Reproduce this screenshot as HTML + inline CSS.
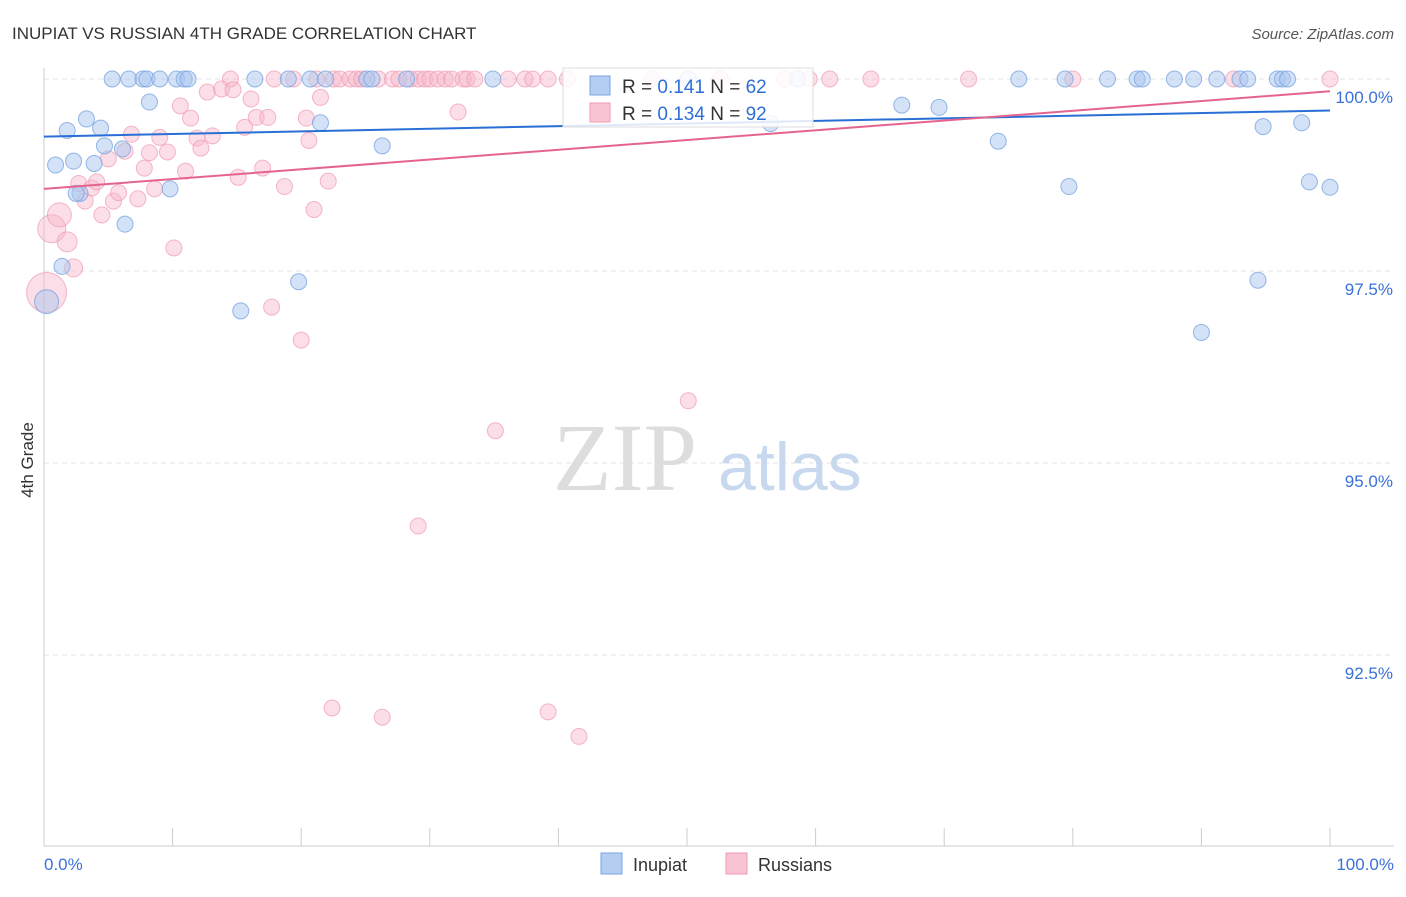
<!DOCTYPE html>
<html><head><meta charset="utf-8"><style>
body{margin:0;background:#fff;font-family:"Liberation Sans",sans-serif;}
</style></head><body>
<svg id="c" width="1406" height="892" xmlns="http://www.w3.org/2000/svg">
<text x="12" y="39" font-size="17" fill="#333">INUPIAT VS RUSSIAN 4TH GRADE CORRELATION CHART</text>
<text x="1394" y="39" font-size="15" fill="#555" font-style="italic" text-anchor="end">Source: ZipAtlas.com</text>
<text x="33" y="460" font-size="17" fill="#333" transform="rotate(-90 33 460)" text-anchor="middle">4th Grade</text>
<g id="grid"></g>
<text x="553" y="490" font-size="96" fill="#ddd" font-family="Liberation Serif,serif">ZIP</text>
<text x="718" y="490" font-size="68" fill="#c8d8ee">atlas</text>
<g id="pts"></g>
<g id="lines"></g>
<g>
<rect x="563" y="68" width="250" height="59" fill="#fff" fill-opacity="0.85" stroke="#ddd"/>
<rect x="590" y="76" width="20" height="19" fill="#b3cdf3" stroke="#7aa5e0"/>
<text x="622" y="93" font-size="19" fill="#333">R = <tspan fill="#2f6fd6">0.141</tspan>   N = <tspan fill="#2f6fd6">62</tspan></text>
<rect x="590" y="103" width="20" height="19" fill="#f9c4d3" stroke="#ef9ab2"/>
<text x="622" y="120" font-size="19" fill="#333">R = <tspan fill="#2f6fd6">0.134</tspan>   N = <tspan fill="#2f6fd6">92</tspan></text>
</g>
<g>
<rect x="601" y="853" width="21" height="21" fill="#b3cdf3" stroke="#7aa5e0"/>
<text x="633" y="871" font-size="18" fill="#333">Inupiat</text>
<rect x="726" y="853" width="21" height="21" fill="#f9c4d3" stroke="#ef9ab2"/>
<text x="758" y="871" font-size="18" fill="#333">Russians</text>
</g>
<text x="44" y="870" font-size="17" fill="#3a72d8">0.0%</text>
<text x="1394" y="870" font-size="17" fill="#3a72d8" text-anchor="end">100.0%</text>
</svg>
<script>
const yTicks=[100,97.5,95,92.5];
const yTickLabels=["100.0%","97.5%","95.0%","92.5%"];
const blueX=[5.3,6.6,7.7,8,9,10.3,10.9,11.2,16.4,19,20.7,21.9,25.1,25.5,28.2,34.9,75.8,79.4,82.7,85,85.4,87.9,89.4,91.2,93,93.6,95.9,96.3,96.7,58.6,50.1,
0.9,2.3,1.8,3.3,4.4,3.9,4.7,6.1,8.2,2.8,9.8,6.3,1.4,0.2,15.3,19.8,21.5,26.3,56.5,66.7,69.6,74.2,79.7,90,94.4,94.8,98.4,97.8,100,2.5];
const blueY=[100,100,100,100,100,100,100,100,100,100,100,100,100,100,100,100,100,100,100,100,100,100,100,100,100,100,100,100,100,100,100,
98.88,98.93,99.33,99.48,99.36,98.9,99.13,99.09,99.7,98.51,98.57,98.11,97.56,97.1,96.98,97.36,99.43,99.13,99.42,99.66,99.63,99.19,98.6,96.7,97.38,99.38,98.66,99.43,98.59,98.51];
const blueR=[8,8,8,8,8,8,8,8,8,8,8,8,8,8,8,8,8,8,8,8,8,8,8,8,8,8,8,8,8,8,8,8,8,8,8,8,8,8,8,8,8,8,8,8,12,8,8,8,8,8,8,8,8,8,8,8,8,8,8,8,8];
const pinkX=[17.9,19.4,14.5,21.2,22.5,23,23.8,24.3,24.7,26,27.1,27.6,28.5,29.1,29.6,30,30.6,31.2,31.7,32.6,32.9,33.5,36.1,37.4,38,39.2,40.7,47.3,52.6,57.6,59.5,61.1,64.3,71.9,80,92.5,100,
0.6,1.2,1.8,2.3,0.2,2.7,3.2,3.7,4.1,4.5,5,5.4,5.8,6.3,6.8,7.3,7.8,8.2,8.6,9,9.6,10.1,10.6,11,11.4,11.9,12.2,12.7,13.1,13.8,14.7,15.1,15.6,16.1,16.5,17,17.4,17.7,18.7,20,20.4,20.6,21,21.5,22.1,22.4,26.3,29.1,32.2,35.1,39.2,41.6,50.1];
const pinkY=[100,100,100,100,100,100,100,100,100,100,100,100,100,100,100,100,100,100,100,100,100,100,100,100,100,100,100,100,100,100,100,100,100,100,100,100,100,
98.05,98.23,97.88,97.54,97.22,98.64,98.41,98.58,98.66,98.23,98.96,98.41,98.52,99.06,99.28,98.44,98.84,99.04,98.57,99.24,99.05,97.8,99.65,98.8,99.49,99.23,99.1,99.83,99.26,99.87,99.86,98.72,99.37,99.74,99.5,98.84,99.5,97.03,98.6,96.6,99.49,99.2,98.3,99.76,98.67,91.81,91.69,94.18,99.57,95.42,91.76,91.44,95.81];
const pinkR=[8,8,8,8,8,8,8,8,8,8,8,8,8,8,8,8,8,8,8,8,8,8,8,8,8,8,8,8,8,8,8,8,8,8,8,8,8,
14,12,10,9,20,8,8,8,8,8,8,8,8,8,8,8,8,8,8,8,8,8,8,8,8,8,8,8,8,8,8,8,8,8,8,8,8,8,8,8,8,8,8,8,8,8,8,8,8,8,8,8,8,8];
const blueLine=[99.25,99.59];
const pinkLine=[98.57,99.84];
const xTicks=[0,10,20,30,40,50,60,70,80,90,100];
const X=v=>44+v*12.86, Y=v=>79+(100-v)*76.8;
const NS="http://www.w3.org/2000/svg";
function mk(t,a,p){const e=document.createElementNS(NS,t);for(const k in a)e.setAttribute(k,a[k]);p.appendChild(e);return e;}
const grid=document.getElementById('grid');
yTicks.forEach((t,i)=>{
 const l=mk('line',{x1:44,x2:1394,y1:Y(t),y2:Y(t),stroke:'#e3e3e3','stroke-dasharray':'5,4'},grid);
 
 
 const tx=mk('text',{x:1393,y:Y(t)+24,'font-size':17,fill:'#3a72d8','text-anchor':'end'},grid);
 tx.textContent=yTickLabels[i];
 
 
});
mk('line',{x1:44,x2:44,y1:68,y2:846,stroke:'#ccc'},grid);
const xa=mk('line',{x1:44,x2:1394,y1:846,y2:846,stroke:'#ccc'},grid);


xTicks.forEach(t=>{const l=mk('line',{x1:X(t),x2:X(t),y1:828,y2:846,stroke:'#ccc'},grid);
 
 });
const pts=document.getElementById('pts');
pinkX.forEach((x,i)=>{const c=mk('circle',{cx:X(x),cy:Y(pinkY[i]),r:pinkR[i]||8,fill:'#f7b6c9','fill-opacity':0.45,stroke:'#ef9ab2','stroke-opacity':0.7},pts);
 
 });
blueX.forEach((x,i)=>{const c=mk('circle',{cx:X(x),cy:Y(blueY[i]),r:blueR[i]||8,fill:'#a9c6f0','fill-opacity':0.5,stroke:'#7aa5e0','stroke-opacity':0.8},pts);
 
 });
const ln=document.getElementById('lines');
const bl=mk('line',{x1:X(0),x2:X(100),y1:Y(blueLine[0]),y2:Y(blueLine[1]),stroke:'#2a6fd6','stroke-width':2},ln);


const pl=mk('line',{x1:X(0),x2:X(100),y1:Y(pinkLine[0]),y2:Y(pinkLine[1]),stroke:'#e5648f','stroke-width':2},ln);


</script>
</body></html>
